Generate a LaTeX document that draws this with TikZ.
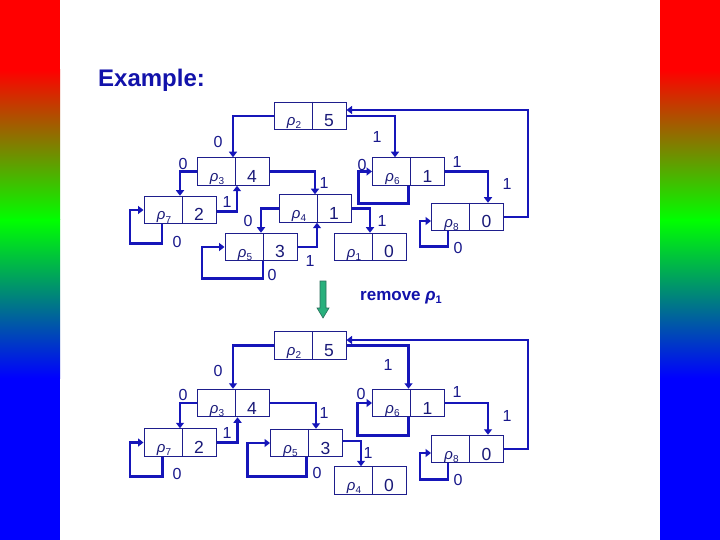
\documentclass[tikz,border=0pt]{standalone}
\usepackage{fontspec}
\setmainfont{Liberation Sans}
\usetikzlibrary{arrows.meta,calc}
\definecolor{lineblue}{RGB}{22,22,185}
\definecolor{boxblue}{RGB}{30,30,140}
\definecolor{txtblue}{RGB}{25,25,120}
\definecolor{lblblue}{RGB}{25,25,140}
\definecolor{titleblue}{RGB}{18,18,170}
\definecolor{arrowgreen}{RGB}{40,176,124}
\definecolor{arrowedge}{RGB}{40,110,90}
\tikzset{
  pboxshape/.style={draw=boxblue, line width=1pt, minimum width=72pt, minimum height=27.5pt, inner sep=0pt, fill=white},
  ptext/.style={anchor=base, inner sep=0pt, text=txtblue, font=\fontsize{15}{15}\selectfont\itshape},
  vtext/.style={anchor=base, inner sep=0pt, text=txtblue, font=\fontsize{17.5}{17.5}\selectfont},
  edge/.style={draw=lineblue, line width=2.6pt, -{Triangle[length=5.5pt,width=8pt]}},
  lbl/.style={inner sep=0pt, text=lblblue, font=\fontsize{16}{16}\selectfont},
}
\newcommand\rhobox[4]{%
  \node[pboxshape] (#1) at #2 {};
  \draw[boxblue, line width=1pt] ([xshift=2pt]#1.north) -- ([xshift=2pt]#1.south);
  \node[ptext] (#1-p) at ([xshift=-16pt,yshift=-10pt]#1.center) {ρ\raisebox{-3pt}{\fontsize{10}{10}\selectfont\upshape #3}};
  \node[vtext] (#1-v) at ([xshift=19pt,yshift=-11pt]#1.center) {#4};
}
\begin{document}
\begin{tikzpicture}[x=1pt,y=-1pt]
\useasboundingbox (0,0) rectangle (720,540);
\fill[white] (0,0) rectangle (720,540);
% side bars
\foreach \xa/\xb in {0/60,660/720}{
  \fill[red] (\xa,0) rectangle (\xb,70);
  \shade[top color=red, bottom color=green] (\xa,70) rectangle (\xb,220);
  \shade[top color=green, bottom color=blue] (\xa,220) rectangle (\xb,378);
  \fill[blue] (\xa,378) rectangle (\xb,540);
}
\node[anchor=base west, inner sep=0pt, text=titleblue, font=\fontsize{24}{24}\selectfont\bfseries] (title) at (98,87) {Example:};

% ---------- top tree ----------
\rhobox{t2}{(310,116)}{2}{5}
\rhobox{t3}{(233,171.5)}{3}{4}
\rhobox{t7}{(180,210)}{7}{2}
\rhobox{t4}{(315,208.5)}{4}{1}
\rhobox{t5}{(261,247)}{5}{3}
\rhobox{t1}{(370,247)}{1}{0}
\rhobox{t6}{(408.5,171.5)}{6}{1}
\rhobox{t8}{(467.5,217)}{8}{0}

\draw[edge] (t2.west) -| (t3.north);
\draw[edge] (t2.east) -| ([xshift=-13.5pt]t6.north);
\draw[edge] (t8.east) -- ++(24,0) |- ([yshift=6pt]t2.east);
\draw[edge] (t3.west) -| (t7.north);
\draw[edge] (t3.east) -| (t4.north);
\draw[edge] ([yshift=-1.5pt]t7.east) -| ([xshift=4pt]t3.south);
\draw[edge] ([xshift=-18pt]t7.south) -- ++(0,19) -- ++(-32,0) |- (t7.west);
\draw[edge] (t4.west) -| (t5.north);
\draw[edge] (t4.east) -| (t1.north);
\draw[edge] (t5.east) -| ([xshift=2pt]t4.south);
\draw[edge] ([xshift=2pt]t5.south) -- ++(0,17) -- ++(-61,0) |- (t5.west);
\draw[edge] (t6.south) -- ++(0,18) -- ++(-50,0) |- (t6.west);
\draw[edge] (t6.east) -| ([xshift=20.5pt]t8.north);
\draw[edge] ([xshift=-19.5pt]t8.south) -- ++(0,15) -- ++(-28,0) |- ([yshift=-4pt]t8.west);

\node[lbl] (ta1) at (218,142) {0};
\node[lbl] (ta2) at (377,137) {1};
\node[lbl] (ta3) at (183,164) {0};
\node[lbl] (ta4) at (324,183) {1};
\node[lbl] (ta5) at (227,202) {1};
\node[lbl] (ta6) at (177,242) {0};
\node[lbl] (ta7) at (248,221) {0};
\node[lbl] (ta8) at (382,221) {1};
\node[lbl] (ta9) at (310,261) {1};
\node[lbl] (ta10) at (272,275) {0};
\node[lbl] (ta11) at (362,165) {0};
\node[lbl] (ta12) at (457,162) {1};
\node[lbl] (ta13) at (507,184) {1};
\node[lbl] (ta14) at (458,248) {0};

% ---------- arrow and caption ----------
\filldraw[fill=arrowgreen, draw=arrowedge, line width=0.6pt]
  (320,281) -- (326,281) -- (326,308) -- (329,308) -- (323,318) -- (317,308) -- (320,308) -- cycle;
\node[anchor=base west, inner sep=0pt, text=titleblue, font=\fontsize{17}{17}\selectfont\bfseries] (rm) at (360,300)
  {remove \textit{ρ}\raisebox{-3pt}{\fontsize{11}{11}\selectfont 1}};

% ---------- bottom tree ----------
\rhobox{b2}{(310,345.5)}{2}{5}
\rhobox{b3}{(233,403)}{3}{4}
\rhobox{b7}{(180,442.5)}{7}{2}
\rhobox{b5}{(306.5,443)}{5}{3}
\rhobox{b4}{(370,480.5)}{4}{0}
\rhobox{b6}{(408.5,403)}{6}{1}
\rhobox{b8}{(467.5,449)}{8}{0}

\draw[edge] (b2.west) -| (b3.north);
\draw[edge] (b2.east) -| (b6.north);
\draw[edge] (b8.east) -- ++(24,0) |- ([yshift=5.5pt]b2.east);
\draw[edge] (b3.west) -| (b7.north);
\draw[edge] (b3.east) -| ([xshift=9.5pt]b5.north);
\draw[edge] (b7.east) -| ([xshift=4.5pt]b3.south);
\draw[edge] ([xshift=-17.5pt]b7.south) -- ++(0,20) -- ++(-32.5,0) |- (b7.west);
\draw[edge] ([yshift=2pt]b5.east) -| ([xshift=-9pt]b4.north);
\draw[edge] (b5.south) -- ++(0,19) -- ++(-59,0) |- (b5.west);
\draw[edge] (b6.south) -- ++(0,18) -- ++(-51,0) |- (b6.west);
\draw[edge] (b6.east) -| ([xshift=20.5pt]b8.north);
\draw[edge] ([xshift=-19.5pt]b8.south) -- ++(0,16) -- ++(-28,0) |- ([yshift=-4pt]b8.west);

\node[lbl] (ba1) at (218,371) {0};
\node[lbl] (ba2) at (388,365) {1};
\node[lbl] (ba3) at (183,395) {0};
\node[lbl] (ba4) at (324,413) {1};
\node[lbl] (ba5) at (227,433) {1};
\node[lbl] (ba6) at (177,474) {0};
\node[lbl] (ba7) at (368,453) {1};
\node[lbl] (ba8) at (317,473) {0};
\node[lbl] (ba9) at (361,394) {0};
\node[lbl] (ba10) at (457,392) {1};
\node[lbl] (ba11) at (507,416) {1};
\node[lbl] (ba12) at (458,480) {0};
\end{tikzpicture}
\end{document}
